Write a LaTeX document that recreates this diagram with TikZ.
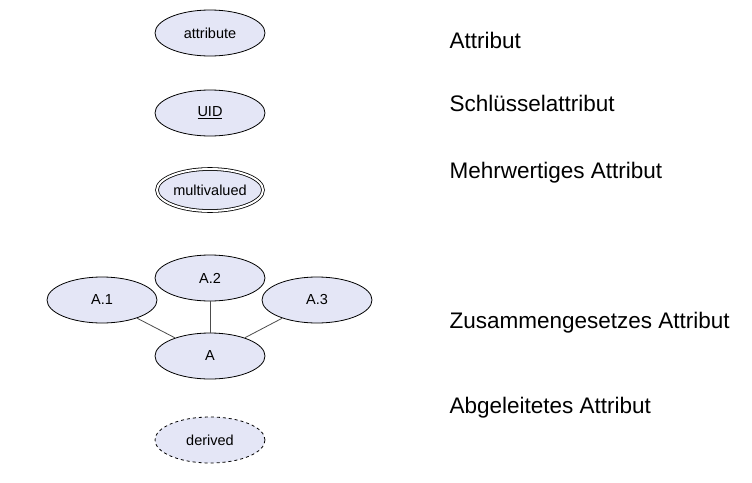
\documentclass[tikz,border=0pt]{standalone}
\usepackage{fontspec}
\setmainfont{Liberation Sans}
\usetikzlibrary{shapes.geometric}
\definecolor{attrfill}{RGB}{228,230,246}
\tikzset{
  every attr/.style={
    ellipse,
    draw,
    line width=0.8pt,
    fill=attrfill,
    minimum width=110pt,
    minimum height=46pt,
    inner sep=0pt,
    font=\fontsize{14.5}{16}\selectfont
  },
  attr multi/.style={
    double,
    double distance=2pt,
    minimum width=106pt,
    minimum height=42pt
  },
  attr derived/.style={
    dashed
  },
  legend/.style={
    anchor=west,
    font=\fontsize{22.5}{25}\selectfont
  },
}
\begin{document}
\begin{tikzpicture}[x=1pt, y=-1pt]
  \useasboundingbox (0,0) rectangle (752,482);

  \node [every attr/.try] (attribute) at (210,33) {attribute};
  \node [every attr/.try] (uid) at (210,113) {\underline{UID}};
  \node [every attr/.try, attr multi] (multivalued) at (210,190) {multivalued};

  \node [every attr/.try] (a) at (210,356) {A};
  \foreach \m/\x/\y in {1/102/300, 2/210/278, 3/317/300}
    \node [every attr/.try] (a-\m) at (\x,\y) {A.\m};
  \foreach \m in {1,2,3}
    \draw [gray!60!black, line width=0.8pt] (a) -- (a-\m);

  \node [every attr/.try, attr derived] (derived) at (210,440) {derived};

  \foreach \t/\y in {Attribut/40, Schlüsselattribut/103, Mehrwertiges Attribut/173,
                     Zusammengesetzes Attribut/323, Abgeleitetes Attribut/408}
    \node [legend] at (446,\y) {\t};
\end{tikzpicture}
\end{document}
